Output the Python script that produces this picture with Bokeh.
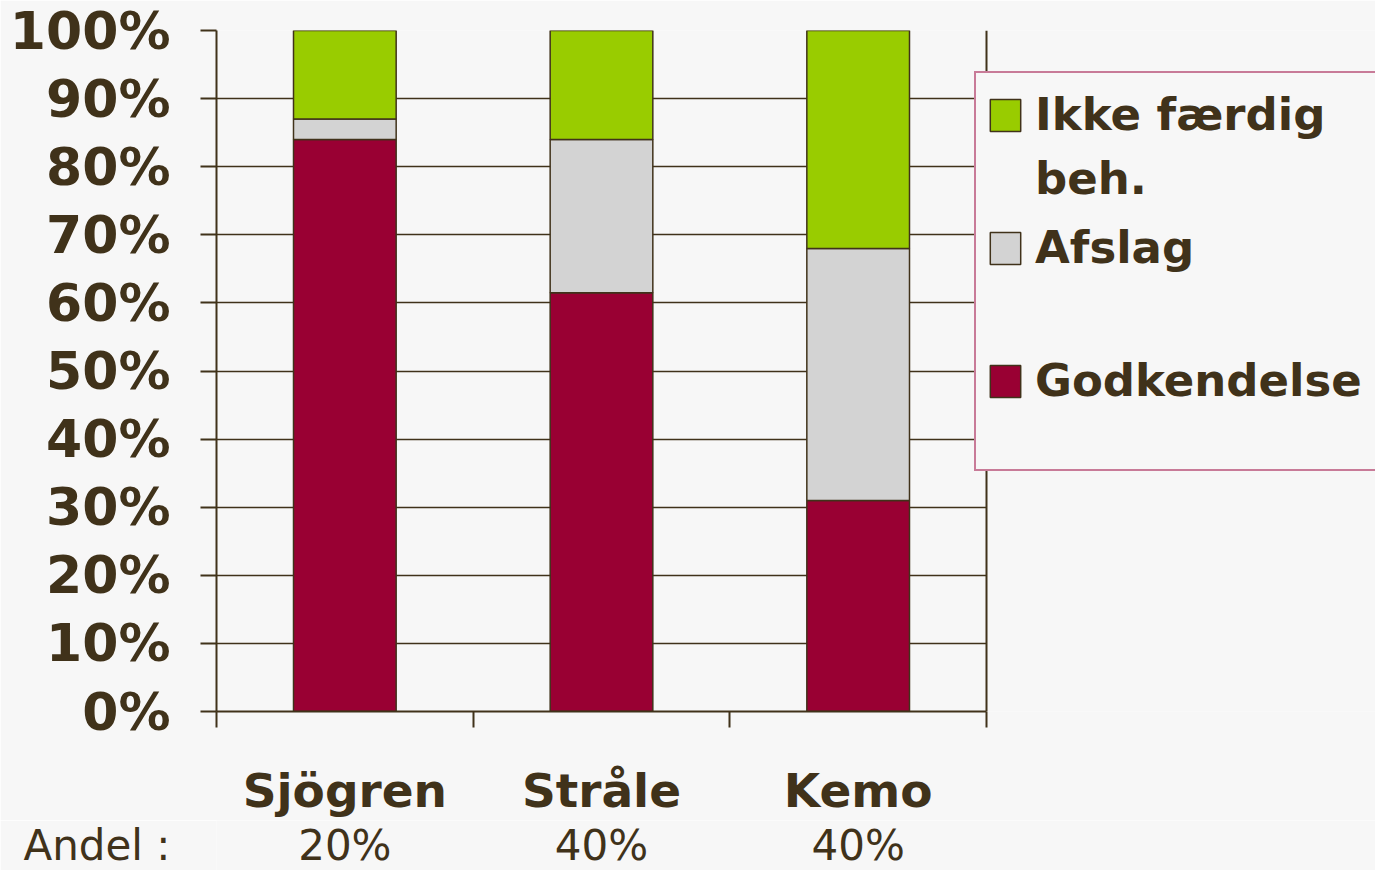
from bokeh.plotting import figure
from bokeh.layouts import column
from bokeh.models import (ColumnDataSource, Range1d, FixedTicker, Legend, LegendItem,
                          PrintfTickFormatter, Span)
from bokeh.core.properties import value
from bokeh.embed import file_html
from bokeh.resources import INLINE

# ---- data ----
categories = ["Sjögren", "Stråle", "Kemo"]
godkendelse = [84, 61.5, 31]
afslag = [3, 22.5, 37]
ikke_faerdig = [13, 16, 32]
andel = ["20%", "40%", "40%"]
andel_title = "Andel :"
series_labels = ["Ikke færdig beh.", "Afslag", "Godkendelse"]
y_ticks = list(range(0, 101, 10))

# ---- style / layout ----
TXT = "#40321a"
BG = "#f7f7f7"
C_GOD = "#990033"
C_AFS = "#d3d3d3"
C_IKKE = "#99cc00"
LEG_BORDER = "#99003a"
FONT = "DejaVu Sans"
W, H = 1375, 870
FRAME_L, FRAME_R_DATA_PX, FRAME_T, FRAME_B = 216, 986, 30, 712
ROW2_H = 50

n = len(categories)
unit = (FRAME_R_DATA_PX - FRAME_L) / n
x_end = (W - FRAME_L) / unit

xs = [i + 0.5 for i in range(n)]
src = ColumnDataSource(dict(x=xs, god=godkendelse, afs=afslag, ikke=ikke_faerdig, andel=andel))

main_h = H - ROW2_H
p = figure(width=W, height=main_h, output_backend="svg", toolbar_location=None,
           x_range=Range1d(0, x_end), y_range=Range1d(0, 100),
           min_border_left=FRAME_L, min_border_right=0, min_border_top=FRAME_T,
           min_border_bottom=main_h - FRAME_B)
p.background_fill_color = BG
p.border_fill_color = BG
p.outline_line_color = None

r_god, r_afs, r_ikke = p.vbar_stack(["god", "afs", "ikke"], x="x", width=0.4, source=src,
                                    fill_color=[C_GOD, C_AFS, C_IKKE], line_color=TXT, line_width=1.5)

# y axis
ya = p.yaxis[0]
ya.ticker = FixedTicker(ticks=y_ticks)
ya.formatter = PrintfTickFormatter(format="%d%%")
ya.major_label_text_font = FONT
ya.major_label_text_font_style = "bold"
ya.major_label_text_font_size = "52px"
ya.major_label_text_color = TXT
ya.major_tick_out = 16
ya.major_tick_in = 0
ya.major_tick_line_color = TXT
ya.major_tick_line_width = 2
ya.minor_tick_line_color = None
ya.axis_line_color = TXT
ya.axis_line_width = 2
ya.major_label_standoff = 30

# x axis
xa = p.xaxis[0]
xa.bounds = (0, n)
xa.ticker = FixedTicker(ticks=xs, minor_ticks=list(range(n + 1)))
xa.major_label_overrides = {x: c for x, c in zip(xs, categories)}
xa.major_label_text_font = FONT
xa.major_label_text_font_style = "bold"
xa.major_label_text_font_size = "47px"
xa.major_label_text_color = TXT
xa.major_tick_out = 0
xa.major_tick_in = 0
xa.major_tick_line_color = None
xa.minor_tick_out = 16
xa.minor_tick_in = 0
xa.minor_tick_line_color = TXT
xa.minor_tick_line_width = 2
xa.axis_line_color = TXT
xa.axis_line_width = 2
xa.major_label_standoff = 35

p.xgrid.visible = False
p.ygrid.grid_line_color = TXT
p.ygrid.grid_line_width = 1.5
p.ygrid.cross_bounds = (0, n)

p.add_layout(Span(location=n, dimension="height", line_color=TXT, line_width=2))

# legend frame (dummy item sized to the box)
box_src = ColumnDataSource(dict(x=[], top=[]))
box_r = p.vbar(x="x", top="top", width=0.1, source=box_src, fill_alpha=0, line_alpha=0)
box_legend = Legend(items=[LegendItem(label=" ", renderers=[box_r])], location=(758, 240),
                    padding=0, margin=0, spacing=0, glyph_width=600, glyph_height=396,
                    label_standoff=0, label_text_font_size="1px",
                    border_line_color=LEG_BORDER, border_line_width=2,
                    background_fill_color=BG, background_fill_alpha=1)
p.add_layout(box_legend)

leg_style = dict(padding=0, margin=0, glyph_width=38, glyph_height=40, label_height=40,
                 label_standoff=11, border_line_alpha=0, background_fill_alpha=0,
                 label_text_font=FONT, label_text_font_style="bold",
                 label_text_font_size="45px", label_text_color=TXT)

first_line, second_line = series_labels[0].rsplit(" ", 1)
items_legend = Legend(items=[LegendItem(label=first_line, renderers=[r_ikke]),
                             LegendItem(label=series_labels[1], renderers=[r_afs]),
                             LegendItem(label=series_labels[2], renderers=[r_god])],
                      location=(770, 304), spacing=80, **leg_style)
p.add_layout(items_legend)

# wrapped second line of the first legend label (invisible glyph)
wrap_legend = Legend(items=[LegendItem(label=second_line, renderers=[box_r])],
                     location=(770, 506), spacing=0, **leg_style)
p.add_layout(wrap_legend)

# ---- "Andel" row (frame aligned with the main plot's frame) ----
ROW_Y = ROW2_H / 2
TITLE_TICK = ROW_Y
p2 = figure(width=W, height=ROW2_H, output_backend="svg", toolbar_location=None,
            x_range=p.x_range, y_range=Range1d(0, ROW2_H), x_axis_location=None,
            min_border_left=FRAME_L, min_border_right=0, min_border_top=0, min_border_bottom=0)
p2.background_fill_color = BG
p2.border_fill_color = BG
p2.outline_line_color = None
p2.grid.visible = False
a2 = p2.yaxis[0]
a2.ticker = FixedTicker(ticks=[TITLE_TICK])
a2.major_label_overrides = {TITLE_TICK: andel_title}
a2.major_label_text_font = FONT
a2.major_label_text_font_size = "42px"
a2.major_label_text_color = TXT
a2.major_tick_line_color = None
a2.minor_tick_line_color = None
a2.axis_line_color = None
a2.major_tick_out = 0
a2.major_tick_in = 0
a2.major_label_standoff = 46
p2.text(x="x", y=ROW_Y, text="andel", source=src, text_font=value(FONT),
        text_font_size="42px", text_color=TXT, text_align="center",
        text_baseline="middle")

layout = column(p, p2, spacing=0)
open("out.html", "w").write(file_html(layout, INLINE))
